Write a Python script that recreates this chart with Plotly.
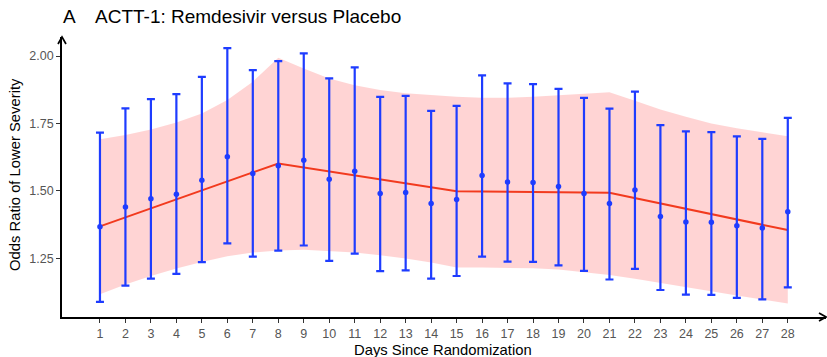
import plotly.graph_objects as go

# ---------------- data ----------------
days = list(range(1, 29))
or_est = [1.367, 1.441, 1.471, 1.488, 1.540, 1.627, 1.565, 1.593, 1.614, 1.543,
          1.573, 1.491, 1.494, 1.454, 1.468, 1.557, 1.533, 1.531, 1.517, 1.491,
          1.454, 1.504, 1.405, 1.385, 1.384, 1.371, 1.363, 1.423]
ci_upper = [1.716, 1.806, 1.840, 1.859, 1.923, 2.029, 1.948, 1.981, 2.010, 1.917,
            1.958, 1.849, 1.852, 1.797, 1.815, 1.928, 1.899, 1.896, 1.878, 1.845,
            1.805, 1.868, 1.744, 1.721, 1.718, 1.702, 1.693, 1.771]
ci_lower = [1.089, 1.149, 1.175, 1.193, 1.236, 1.306, 1.257, 1.279, 1.298, 1.241,
            1.268, 1.203, 1.206, 1.175, 1.185, 1.257, 1.238, 1.237, 1.224, 1.204,
            1.172, 1.211, 1.133, 1.116, 1.115, 1.104, 1.098, 1.143]

fit_days = [1, 8, 15, 21, 28]
fit_vals = [1.369, 1.602, 1.499, 1.493, 1.355]

band_upper = [1.692, 1.707, 1.728, 1.754, 1.787, 1.837, 1.905, 1.994, 1.954, 1.917,
              1.892, 1.874, 1.862, 1.855, 1.849, 1.845, 1.845, 1.849, 1.854, 1.859,
              1.866, 1.834, 1.802, 1.775, 1.750, 1.732, 1.717, 1.703]
band_lower = [1.117, 1.153, 1.185, 1.213, 1.237, 1.258, 1.272, 1.279, 1.282, 1.278,
              1.272, 1.262, 1.250, 1.235, 1.216, 1.216, 1.216, 1.214, 1.209, 1.200,
              1.189, 1.175, 1.159, 1.144, 1.129, 1.113, 1.098, 1.083]

y_ticks = [1.25, 1.50, 1.75, 2.00]
title_letter = "A"
title_text = "ACTT-1: Remdesivir versus Placebo"
x_title = "Days Since Randomization"
y_title = "Odds Ratio of Lower Severity"

# ---------------- figure ----------------
FONT = "Liberation Sans, Arial, Helvetica, sans-serif"
BLUE = "#1e3cff"
RED = "#f23a1e"
W, H = 827, 357
ML, MR, MT, MB = 62, 1, 37, 40

fig = go.Figure()

# confidence band
fig.add_trace(go.Scatter(x=days, y=band_lower, mode="lines",
                         line=dict(width=0), hoverinfo="skip", showlegend=False))
fig.add_trace(go.Scatter(x=days, y=band_upper, mode="lines",
                         line=dict(width=0), fill="tonexty",
                         fillcolor="rgba(255,0,0,0.17)", hoverinfo="skip",
                         showlegend=False))

# fitted line
fig.add_trace(go.Scatter(x=fit_days, y=fit_vals, mode="lines",
                         line=dict(color=RED, width=2), showlegend=False))

# estimates with error bars
err_plus = [u - e for u, e in zip(ci_upper, or_est)]
err_minus = [e - l for e, l in zip(or_est, ci_lower)]
fig.add_trace(go.Scatter(
    x=days, y=or_est, mode="markers",
    marker=dict(color=BLUE, size=5.5),
    error_y=dict(type="data", symmetric=False, array=err_plus,
                 arrayminus=err_minus, color=BLUE, thickness=2.2, width=4),
    showlegend=False))

fig.update_layout(
    width=W, height=H, autosize=False,
    margin=dict(l=ML, r=MR, t=MT, b=MB, pad=0),
    paper_bgcolor="white", plot_bgcolor="white",
    font=dict(family=FONT, color="#4d4d4d"),
    xaxis=dict(range=[-0.49, 29.5], tickmode="array", tickvals=days,
               ticktext=[str(d) for d in days], showgrid=False, zeroline=False,
               showline=True, linecolor="black", linewidth=1.7,
               ticks="outside", ticklen=4, tickwidth=1, tickcolor="#333333",
               tickfont=dict(size=12.5, color="#555555", family=FONT)),
    yaxis=dict(range=[1.033, 2.0705], tickmode="array", tickvals=y_ticks,
               ticktext=["%.2f" % v for v in y_ticks], showgrid=False,
               zeroline=False, showline=True, linecolor="black", linewidth=1.7,
               ticks="outside", ticklen=4, tickwidth=1, tickcolor="#333333",
               tickfont=dict(size=12.5, color="#555555", family=FONT)),
)

# axis arrow heads (open chevrons)
fig.add_shape(type="path", xref="paper", yref="paper",
              xsizemode="pixel", ysizemode="pixel", xanchor=1, yanchor=0,
              path="M -7,4 L 0,0 L -7,-4", line=dict(color="black", width=1.7))
fig.add_shape(type="path", xref="paper", yref="paper",
              xsizemode="pixel", ysizemode="pixel", xanchor=0, yanchor=1,
              path="M -4,-7 L 0,0 L 4,-7", line=dict(color="black", width=1.7))

plot_w = W - ML - MR
plot_h = H - MT - MB


def px_x(p):
    return (p - ML) / plot_w


def px_y(p):
    return (H - MB - p) / plot_h


# titles
fig.add_annotation(text=title_letter, xref="paper", yref="paper",
                   x=px_x(61), y=px_y(16.5), xanchor="left", yanchor="middle",
                   showarrow=False, font=dict(size=19, color="black", family=FONT))
fig.add_annotation(text=title_text, xref="paper", yref="paper",
                   x=px_x(93), y=px_y(16.5), xanchor="left", yanchor="middle",
                   showarrow=False, font=dict(size=19, color="black", family=FONT))
fig.add_annotation(text=x_title, xref="paper", yref="paper",
                   x=px_x(443), y=px_y(350), xanchor="center", yanchor="middle",
                   showarrow=False, font=dict(size=14.8, color="black", family=FONT))
fig.add_annotation(text=y_title, xref="paper", yref="paper",
                   x=px_x(15), y=px_y(175), xanchor="center", yanchor="middle",
                   textangle=-90, showarrow=False,
                   font=dict(size=14.8, color="black", family=FONT))

fig.write_html("out.html")
